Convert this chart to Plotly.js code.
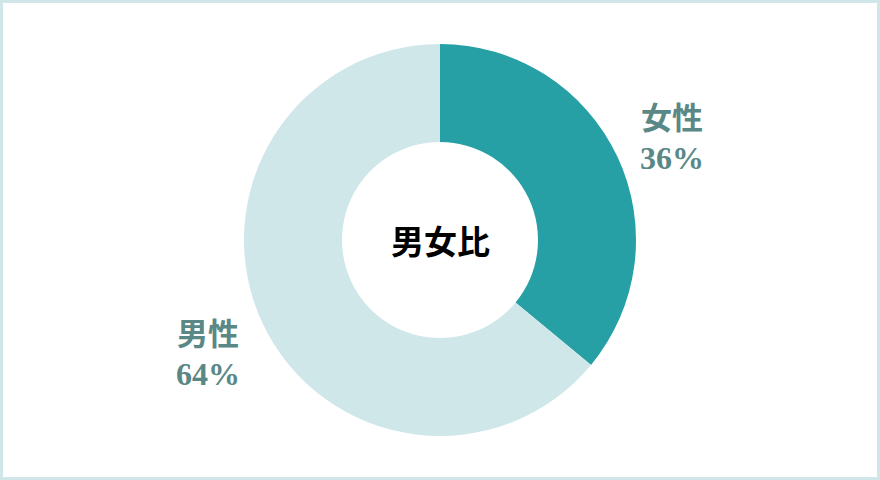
<!DOCTYPE html>
<html>
<head>
<meta charset="utf-8">
<script src="https://cdn.plot.ly/plotly-3.0.1.min.js"></script>
<style>
  body { margin: 0; background: #fff; }
  #frame { width: 880px; height: 480px; box-sizing: border-box; border: 3px solid #d0e6e8; }
  #chart { width: 874px; height: 474px; }
</style>
</head>
<body>
<div id="frame"><div id="chart"></div></div>
<script>
// gender ratio data
const genders = ['女性', '男性'];
const shares = [36, 64];
const sliceColors = ['#26a0a5', '#cfe7e9'];
const centerTitle = '男女比';

const W = 874, H = 474;
// pixel -> paper helpers (plot has zero margins)
const px = x => (x - 3) / W;
const py = y => 1 - (y - 3) / H;

const labelFont = "'Noto Sans CJK JP', sans-serif";
const numFont = "'Liberation Serif', 'DejaVu Serif', serif";
const labelPos = [[672, 135], [208, 350]];

const annotations = genders.map((g, i) => ({
    text: `<b>${g}</b><br><span style="font-family:${numFont};font-size:32px"><b>${shares[i]}%</b></span>`,
    x: px(labelPos[i][0]), y: py(labelPos[i][1]),
    xref: 'paper', yref: 'paper', showarrow: false,
    xanchor: 'center', yanchor: 'middle',
    font: { family: labelFont, size: 31, color: '#5a8886' },
    align: 'center'
}));
annotations.push({
    text: `<b>${centerTitle}</b>`,
    x: px(440), y: py(240), xref: 'paper', yref: 'paper', showarrow: false,
    xanchor: 'center', yanchor: 'middle',
    font: { family: labelFont, size: 33, color: '#000' }
});

Plotly.newPlot('chart', [{
    type: 'pie',
    labels: genders,
    values: shares,
    hole: 0.5,
    sort: false,
    direction: 'clockwise',
    rotation: 0,
    marker: { colors: sliceColors, line: { width: 0 } },
    textinfo: 'none',
    hoverinfo: 'label+percent',
    domain: { x: [0, 1], y: [41 / H, 433 / H] }
}], {
    width: W, height: H,
    margin: { l: 0, r: 0, t: 0, b: 0 },
    showlegend: false,
    paper_bgcolor: '#fff',
    annotations: annotations
}, { displayModeBar: false, staticPlot: true });
</script>
</body>
</html>
